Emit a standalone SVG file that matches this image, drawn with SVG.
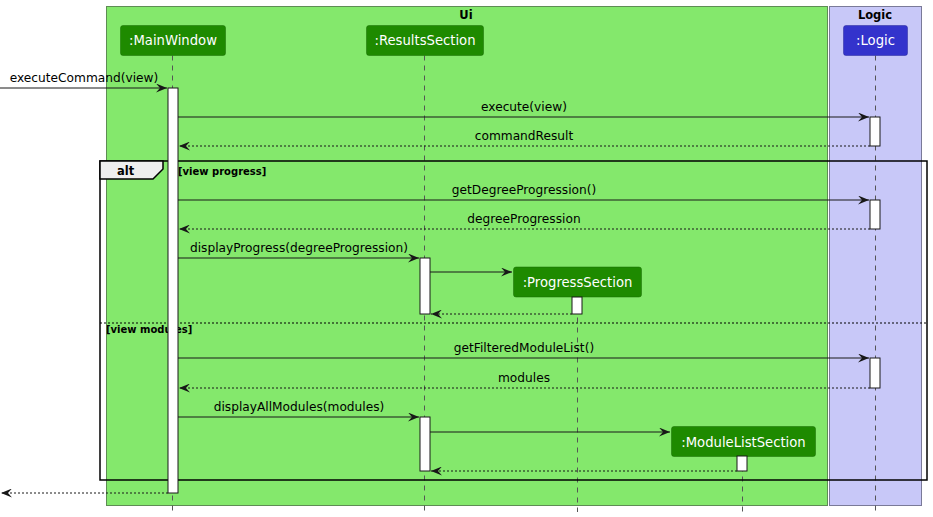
<svg xmlns="http://www.w3.org/2000/svg" width="933" height="517" viewBox="0 0 933 517">
<style>
.box-ui{fill:#84E86C;stroke:#5E8C54;stroke-width:1}
.box-logic{fill:#C8C8F8;stroke:#7A7A98;stroke-width:1}
.title{font-family:"DejaVu Sans",sans-serif;font-weight:bold;font-size:11.5px;fill:#000;text-anchor:middle}
.p-ui{fill:#1E8A00;stroke:#176A00;stroke-width:0.5}
.p-logic{fill:#3333CC;stroke:#26269A;stroke-width:0.5}
.ptext{font-family:"DejaVu Sans",sans-serif;font-size:13.2px;fill:#FFFFFF;text-anchor:middle}
.life{stroke:#555;stroke-width:1;stroke-dasharray:5,5;fill:none}
.act{fill:#FFFFFF;stroke:#181818;stroke-width:1}
.msg{stroke:#181818;stroke-width:1;fill:none;marker-end:url(#ah)}
.ret{stroke:#181818;stroke-width:1;fill:none;stroke-dasharray:2,2;marker-end:url(#ah)}
.lbl{font-family:"DejaVu Sans",sans-serif;font-size:12.2px;fill:#000;text-anchor:middle}
.frame{fill:none;stroke:#000;stroke-width:1.5}
.guard{font-family:"DejaVu Sans",sans-serif;font-weight:bold;font-size:10px;fill:#000}
</style>
<defs>
<marker id="ah" viewBox="0 0 11 9" markerWidth="11" markerHeight="9" refX="11" refY="4.5" orient="auto" markerUnits="userSpaceOnUse">
<path d="M0,0 L11,4.5 L0,9 L4,4.5 Z" fill="#181818"/>
</marker>
</defs>

<g id="box-ui">
<rect class="box-ui" x="106.5" y="6.5" width="721" height="499"/>
<text class="title" x="466" y="19">Ui</text>
</g>
<g id="box-logic">
<rect class="box-logic" x="829.5" y="6.5" width="92" height="499"/>
<text class="title" x="875" y="19">Logic</text>
</g>

<g id="lifelines">
<line class="life" x1="172.5" y1="55.5" x2="172.5" y2="512"/>
<line class="life" x1="424.5" y1="55.5" x2="424.5" y2="512"/>
<line class="life" x1="577.5" y1="297.5" x2="577.5" y2="512"/>
<line class="life" x1="742.5" y1="456.5" x2="742.5" y2="512"/>
<line class="life" x1="875.5" y1="55.5" x2="875.5" y2="512"/>
</g>

<g id="MainWindow">
<rect class="p-ui" x="120.5" y="25.5" width="105" height="30" rx="2.5"/>
<text class="ptext" x="173" y="45">:MainWindow</text>
</g>
<g id="ResultsSection">
<rect class="p-ui" x="366.5" y="25.5" width="117" height="30" rx="2.5"/>
<text class="ptext" x="425" y="45">:ResultsSection</text>
</g>
<g id="Logic">
<rect class="p-logic" x="843.5" y="25.5" width="64" height="30" rx="2.5"/>
<text class="ptext" x="875.5" y="45">:Logic</text>
</g>
<g id="ProgressSection">
<rect class="p-ui" x="513.5" y="267" width="128" height="30" rx="2.5"/>
<text class="ptext" x="577.5" y="287">:ProgressSection</text>
</g>
<g id="ModuleListSection">
<rect class="p-ui" x="671.5" y="426.5" width="144" height="30" rx="2.5"/>
<text class="ptext" x="743.5" y="446.5">:ModuleListSection</text>
</g>

<g id="alt-frame">
<rect class="frame" x="100" y="161" width="827" height="319"/>
<polygon points="100,161 163,161 163,169 153,179 100,179" fill="#EEEEEE" stroke="#000" stroke-width="1.5"/>
<text x="117" y="175" font-family="DejaVu Sans, sans-serif" font-weight="bold" font-size="11.5px">alt</text>
<text class="guard" x="178" y="174.5">[view progress]</text>
<line x1="100" y1="323" x2="927" y2="323" stroke="#000" stroke-width="1" stroke-dasharray="2,2"/>
<text class="guard" x="106" y="333">[view modules]</text>
</g>

<g id="activations">
<rect class="act" x="168" y="88" width="10" height="405"/>
<rect class="act" x="870" y="117" width="10" height="29"/>
<rect class="act" x="870" y="200" width="10" height="29"/>
<rect class="act" x="870" y="358" width="10" height="30"/>
<rect class="act" x="420" y="258" width="10" height="56"/>
<rect class="act" x="420" y="417" width="10" height="54"/>
<rect class="act" x="572" y="297" width="10" height="17"/>
<rect class="act" x="737" y="456" width="10" height="15"/>
</g>

<g id="connectors">
<line class="msg" x1="0" y1="88" x2="167" y2="88"/>
<text class="lbl" x="84" y="82">executeCommand(view)</text>
<line class="msg" x1="178" y1="117" x2="869" y2="117"/>
<text class="lbl" x="524" y="111">execute(view)</text>
<line class="ret" x1="870" y1="146" x2="179" y2="146"/>
<text class="lbl" x="524" y="140">commandResult</text>
<line class="msg" x1="178" y1="200" x2="869" y2="200"/>
<text class="lbl" x="524" y="194">getDegreeProgression()</text>
<line class="ret" x1="870" y1="229" x2="179" y2="229"/>
<text class="lbl" x="524" y="223">degreeProgression</text>
<line class="msg" x1="178" y1="258" x2="419" y2="258"/>
<text class="lbl" x="299" y="252">displayProgress(degreeProgression)</text>
<line class="msg" x1="430" y1="272" x2="512" y2="272"/>
<line class="ret" x1="572" y1="314" x2="431" y2="314"/>
<line class="msg" x1="178" y1="358" x2="869" y2="358"/>
<text class="lbl" x="524" y="352">getFilteredModuleList()</text>
<line class="ret" x1="870" y1="388" x2="179" y2="388"/>
<text class="lbl" x="524" y="382">modules</text>
<line class="msg" x1="178" y1="417" x2="419" y2="417"/>
<text class="lbl" x="299" y="411">displayAllModules(modules)</text>
<line class="msg" x1="430" y1="432" x2="670" y2="432"/>
<line class="ret" x1="737" y1="471" x2="431" y2="471"/>
<line class="ret" x1="168" y1="493" x2="1" y2="493"/>
</g>
</svg>
